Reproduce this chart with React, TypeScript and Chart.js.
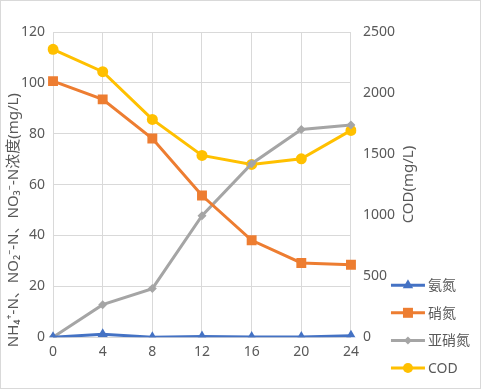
import React, { useEffect, useRef } from "react";
import { Chart, registerables } from "chart.js";

Chart.register(...registerables);

const hours = ["0", "4", "8", "12", "16", "20", "24"];
const ammonia = [0, 1.2, 0, 0.3, 0.1, 0.1, 0.6];
const nitrate = [100.7, 93.5, 78.1, 55.7, 38.1, 29.2, 28.5];
const nitrite = [0, 12.8, 19.1, 47.8, 68.2, 81.7, 83.4];
const cod = [2358, 2175, 1784, 1489, 1415, 1461, 1694];
const seriesNames = ["氨氮", "硝氮", "亚硝氮", "COD"];
const seriesColors = ["#4472C4", "#ED7D31", "#A5A5A5", "#FFC000"];
const leftTitle = "NH₄⁺-N、NO₂⁻-N、NO₃⁻-N浓度(mg/L)";
const rightTitle = "COD(mg/L)";

const FONT = '"Noto Sans", "Noto Sans CJK SC", sans-serif';
const TEXT = "#595959";
const GRID = "#d9d9d9";

function drawMarker(ctx: CanvasRenderingContext2D, style: string, x: number, y: number, color: string) {
  ctx.save();
  ctx.fillStyle = color;
  ctx.beginPath();
  if (style === "triangle") {
    const r = 6;
    ctx.moveTo(x, y - r);
    ctx.lineTo(x + r * 0.866, y + r * 0.5);
    ctx.lineTo(x - r * 0.866, y + r * 0.5);
    ctx.closePath();
  } else if (style === "rect") {
    ctx.rect(x - 5, y - 5, 10, 10);
  } else if (style === "rectRot") {
    const s = 4;
    ctx.moveTo(x, y - s);
    ctx.lineTo(x + s, y);
    ctx.lineTo(x, y + s);
    ctx.lineTo(x - s, y);
    ctx.closePath();
  } else {
    ctx.arc(x, y, 5, 0, Math.PI * 2);
  }
  ctx.fill();
  ctx.restore();
}

function drawRotated(ctx: CanvasRenderingContext2D, text: string, x: number, y: number) {
  ctx.save();
  ctx.translate(x, y);
  ctx.rotate(-Math.PI / 2);
  ctx.fillStyle = TEXT;
  ctx.font = `15px ${FONT}`;
  ctx.textAlign = "center";
  ctx.textBaseline = "middle";
  ctx.fillText(text, 0, 0);
  ctx.restore();
}

const overlayPlugin = {
  id: "overlay",
  afterDraw(chart: any) {
    const ctx = chart.ctx as CanvasRenderingContext2D;
    const area = chart.chartArea;
    // axis titles
    drawRotated(ctx, leftTitle, area.left - 39, area.bottom - 117);
    drawRotated(ctx, rightTitle, area.right + 58, (area.top + area.bottom) / 2);
    // legend
    const x0 = area.right + 40;
    const y0 = area.bottom - 52;
    chart.data.datasets.forEach((ds: any, i: number) => {
      const y = y0 + i * 27.6;
      ctx.save();
      ctx.strokeStyle = ds.borderColor;
      ctx.lineWidth = 3;
      ctx.beginPath();
      ctx.moveTo(x0, y);
      ctx.lineTo(x0 + 34, y);
      ctx.stroke();
      ctx.restore();
      drawMarker(ctx, ds.pointStyle, x0 + 17, y, ds.borderColor);
      ctx.save();
      ctx.fillStyle = TEXT;
      ctx.font = `14px ${FONT}`;
      ctx.textBaseline = "middle";
      ctx.fillText(ds.label, x0 + 37, y + 1);
      ctx.restore();
    });
  },
};

export default function App() {
  const ref = useRef<HTMLCanvasElement>(null);
  useEffect(() => {
    if (!ref.current) return;
    const styles = ["triangle", "rect", "rectRot", "circle"];
    const radii = [6, 7, 4.5, 5.5];
    const values = [ammonia, nitrate, nitrite, cod];
    const chart = new Chart(ref.current, {
      type: "line",
      data: {
        labels: hours,
        datasets: values.map((v, i) => ({
          label: seriesNames[i],
          data: v,
          borderColor: seriesColors[i],
          backgroundColor: seriesColors[i],
          borderWidth: 3,
          pointStyle: styles[i],
          pointRadius: radii[i],
          pointBorderWidth: 0,
          tension: 0,
          yAxisID: i === 3 ? "y1" : "y",
        })),
      },
      options: {
        animation: false,
        responsive: false,
        maintainAspectRatio: false,
        layout: { padding: { top: 31, right: 73, bottom: 22, left: 12 } },
        plugins: { legend: { display: false }, tooltip: { enabled: false } },
        scales: {
          x: {
            grid: { color: GRID, lineWidth: 1, drawTicks: false },
            border: { color: GRID },
            ticks: { color: TEXT, font: { family: FONT, size: 14 }, padding: 6 },
          },
          y: {
            position: "left",
            min: 0,
            max: 120,
            grid: { color: GRID, drawTicks: false },
            border: { display: false },
            ticks: { stepSize: 20, color: TEXT, font: { family: FONT, size: 14 }, padding: 8 },
          },
          y1: {
            position: "right",
            min: 0,
            max: 2500,
            grid: { drawOnChartArea: false, drawTicks: false },
            border: { display: false },
            ticks: {
              stepSize: 500,
              color: TEXT,
              font: { family: FONT, size: 14 },
              padding: 12,
              callback: (v: any) => String(v),
            },
          },
        },
      },
      plugins: [overlayPlugin],
    } as any);
    return () => chart.destroy();
  }, []);
  return (
    <div
      style={{
        position: "fixed",
        left: 0,
        top: 0,
        width: 481,
        height: 389,
        boxSizing: "border-box",
        border: "1px solid #d9d9d9",
        background: "#fff",
      }}
    >
      <canvas ref={ref} width={479} height={387} style={{ display: "block" }} />
    </div>
  );
}
